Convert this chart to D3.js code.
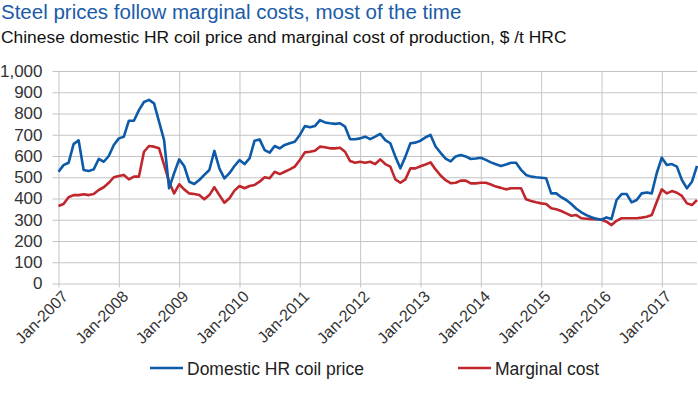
<!DOCTYPE html>
<html>
<head>
<meta charset="utf-8">
<script src="https://cdn.jsdelivr.net/npm/d3@7/dist/d3.min.js"></script>
<style>
  body { margin: 0; background: #fff; }
  svg text { font-family: "Liberation Sans", Arial, sans-serif; }
</style>
</head>
<body>
<svg id="chart"></svg>
<script>
// monthly series, Jan-2007 .. Aug-2017
const price = [
  526, 557, 568, 656, 674, 534, 529, 537, 586, 573, 600, 652,
  683, 691, 766, 766, 816, 854, 864, 848, 762, 675, 448, 519,
  584, 553, 479, 468, 487, 511, 534, 624, 542, 495, 519, 553,
  581, 562, 589, 672, 678, 628, 616, 647, 636, 652, 660, 667,
  699, 741, 735, 741, 769, 758, 754, 751, 754, 738, 679, 679,
  683, 691, 679, 691, 704, 675, 660, 597, 542, 597, 660, 663,
  672, 688, 699, 645, 615, 588, 575, 598, 605, 598, 586, 588,
  592, 582, 570, 561, 553, 560, 568, 568, 535, 511, 503, 500,
  498, 495, 424, 424, 406, 393, 374, 352, 335, 322, 312, 304,
  300, 311, 304, 393, 421, 421, 382, 393, 424, 428, 424, 520,
  592, 558, 562, 550, 487, 448, 479, 553
];
const cost = [
  365, 374, 406, 416, 416, 420, 416, 421, 440, 453, 474, 500,
  506, 511, 490, 503, 503, 620, 647, 644, 636, 558, 479, 424,
  467, 443, 424, 421, 416, 396, 416, 453, 416, 380, 401, 437,
  459, 448, 459, 464, 479, 500, 495, 526, 515, 526, 537, 550,
  581, 617, 620, 625, 644, 641, 636, 636, 639, 620, 576, 568,
  573, 568, 573, 562, 584, 562, 550, 490, 474, 490, 542, 542,
  552, 560, 570, 537, 508, 486, 472, 474, 484, 484, 471, 471,
  474, 474, 466, 456, 450, 443, 448, 448, 448, 396, 388, 382,
  377, 374, 354, 349, 341, 330, 319, 322, 307, 305, 303, 303,
  300, 291, 275, 295, 307, 307, 307, 307, 310, 314, 322, 385,
  443, 424, 435, 427, 412, 377, 369, 393
];
const xTickLabels = ["Jan-2007", "Jan-2008", "Jan-2009", "Jan-2010", "Jan-2011", "Jan-2012",
  "Jan-2013", "Jan-2014", "Jan-2015", "Jan-2016", "Jan-2017"];
const yTicks = [0, 100, 200, 300, 400, 500, 600, 700, 800, 900, 1000];
const seriesNames = ["Domestic HR coil price", "Marginal cost"];

const width = 698, height = 405;
const svg = d3.select("#chart").attr("width", width).attr("height", height);

const plotLeft = 58.5, plotRight = 697, plotTop = 71, plotBottom = 283.5;
const blue = "#0c5aa8", red = "#c0272d", grid = "#c4c4c4";

const x = d3.scaleLinear().domain([0, price.length - 1]).range([plotLeft, plotRight]);
const y = d3.scaleLinear().domain([0, 1000]).range([plotBottom, plotTop]);

// title
svg.append("text").attr("x", 1).attr("y", 18.5)
  .attr("fill", "#1a5ca8").style("font-size", "20.5px")
  .text("Steel prices follow marginal costs, most of the time");
svg.append("text").attr("x", 1).attr("y", 43)
  .attr("fill", "#111").style("font-size", "17.4px")
  .text("Chinese domestic HR coil price and marginal cost of production, $ /t HRC");

// y axis + horizontal grid
const yAxis = svg.append("g").attr("transform", `translate(${plotLeft},0)`)
  .call(d3.axisLeft(y).tickValues(yTicks).tickFormat(d3.format(",")).tickSize(-(plotRight - plotLeft)).tickPadding(16));
yAxis.select(".domain").remove();
yAxis.selectAll("line").attr("stroke", grid).attr("x1", -6);
yAxis.selectAll("text").attr("fill", "#333").style("font-size", "17px");

// x axis + vertical grid
const xAxis = svg.append("g").attr("transform", `translate(0,${plotBottom})`)
  .call(d3.axisBottom(x).tickValues(d3.range(0, 121, 12))
    .tickFormat((d, i) => xTickLabels[i]).tickSize(-(plotBottom - plotTop)));
xAxis.select(".domain").remove();
xAxis.selectAll("line").attr("stroke", grid).attr("y1", 4);
xAxis.selectAll("text")
  .attr("fill", "#333").style("font-size", "16px")
  .attr("text-anchor", "end")
  .attr("y", null)
  .attr("transform", "translate(6,10) rotate(-45)")
  .attr("dy", "0.35em");

// lines
const line = d3.line().x((d, i) => x(i)).y(d => y(d));
svg.append("path").datum(cost).attr("d", line)
  .attr("fill", "none").attr("stroke", red).attr("stroke-width", 2.6).attr("stroke-linejoin", "round");
svg.append("path").datum(price).attr("d", line)
  .attr("fill", "none").attr("stroke", blue).attr("stroke-width", 2.6).attr("stroke-linejoin", "round");

// legend
const legend = svg.append("g").selectAll("g")
  .data([{ name: seriesNames[0], color: blue, x: 150 }, { name: seriesNames[1], color: red, x: 458 }])
  .enter().append("g").attr("transform", d => `translate(${d.x},368)`);
legend.append("line").attr("x1", 0).attr("x2", 33).attr("stroke", d => d.color).attr("stroke-width", 2.6);
legend.append("text").attr("x", 37).attr("y", 6.5).attr("fill", "#222").style("font-size", "17.5px")
  .text(d => d.name);
</script>
</body>
</html>
